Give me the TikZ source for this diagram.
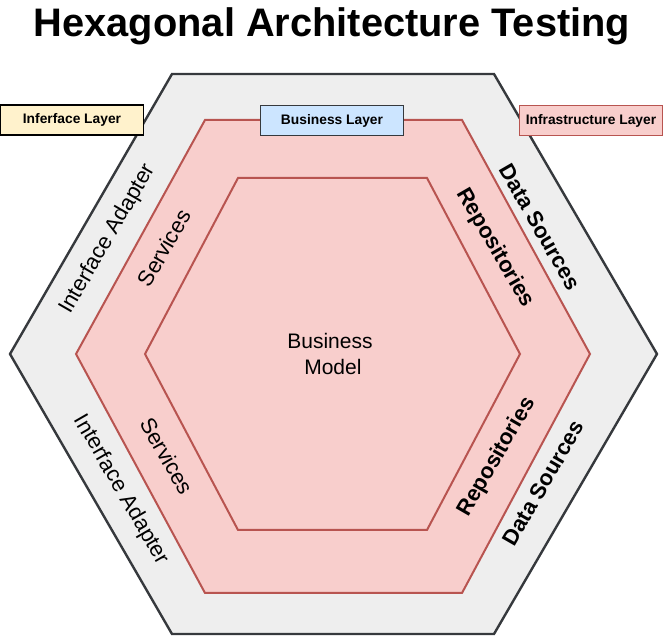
\documentclass[tikz,border=0pt]{standalone}
\usepackage{fontspec}
\setmainfont{Liberation Sans}
\definecolor{outerfill}{HTML}{EEEEEE}
\definecolor{outerline}{HTML}{36393D}
\definecolor{redfill}{HTML}{F8CECC}
\definecolor{redline}{HTML}{B85450}
\definecolor{yellowfill}{HTML}{FFF2CC}
\definecolor{bluefill}{HTML}{CCE5FF}
\tikzset{
  outerhex/.style={draw=outerline, fill=outerfill, line width=2.4pt, line join=miter},
  redhex/.style={draw=redline, fill=redfill, line width=2pt, line join=miter},
  legendbox/.style={minimum width=143pt, minimum height=30pt, inner sep=0pt, line width=1.2pt, font=\fontsize{13.8}{16}\selectfont\bfseries},
  lbl/.style={font=\fontsize{22}{26}\selectfont, inner sep=0pt},
  blbl/.style={font=\fontsize{22}{26}\selectfont\bfseries, inner sep=0pt},
}
\begin{document}
\begin{tikzpicture}[x=1pt,y=-1pt]
\useasboundingbox (0,0) rectangle (665,636);
% hexagons
\draw[outerhex] (10,354) -- (172,74) -- (494,74) -- (657,354) -- (494,634) -- (172,634) -- cycle;
\draw[redhex] (76,354) -- (205,120) -- (462,120) -- (590,354) -- (462,593) -- (205,593) -- cycle;
\draw[redhex] (145,354) -- (238,178) -- (427,178) -- (520,354) -- (427,530) -- (238,530) -- cycle;
% title
\node[font=\fontsize{39.8}{44}\selectfont\bfseries, inner sep=0pt] (title) at (332,26) {Hexagonal Architecture Testing};
% legend boxes
\node[legendbox, draw=black, fill=yellowfill] (iface) at (72,120) {Inferface Layer};
\node[legendbox, draw=outerline, fill=bluefill] (bus) at (332,120.5) {Business Layer};
\node[legendbox, draw=redline, fill=redfill] (infra) at (591,120.5) {Infrastructure Layer};
% labels
\node[lbl, rotate=60] (ia1) at (108,239) {Interface Adapter};
\node[lbl, rotate=60] (sv1) at (164,248) {Services};
\node[lbl, rotate=-60] (ia2) at (121,490) {Interface Adapter};
\node[lbl, rotate=-60] (sv2) at (167,456) {Services};
\node[blbl, rotate=-60] (ds1) at (540,227) {Data Sources};
\node[blbl, rotate=-60] (rp1) at (495,248) {Repositories};
\node[blbl, rotate=60] (rp2) at (497,457) {Repositories};
\node[blbl, rotate=60] (ds2) at (543,483) {Data Sources};
\node[font=\fontsize{21}{26}\selectfont, align=center, inner sep=0pt] (bm) at (330,354) {Business\\\ Model};
\end{tikzpicture}
\end{document}
